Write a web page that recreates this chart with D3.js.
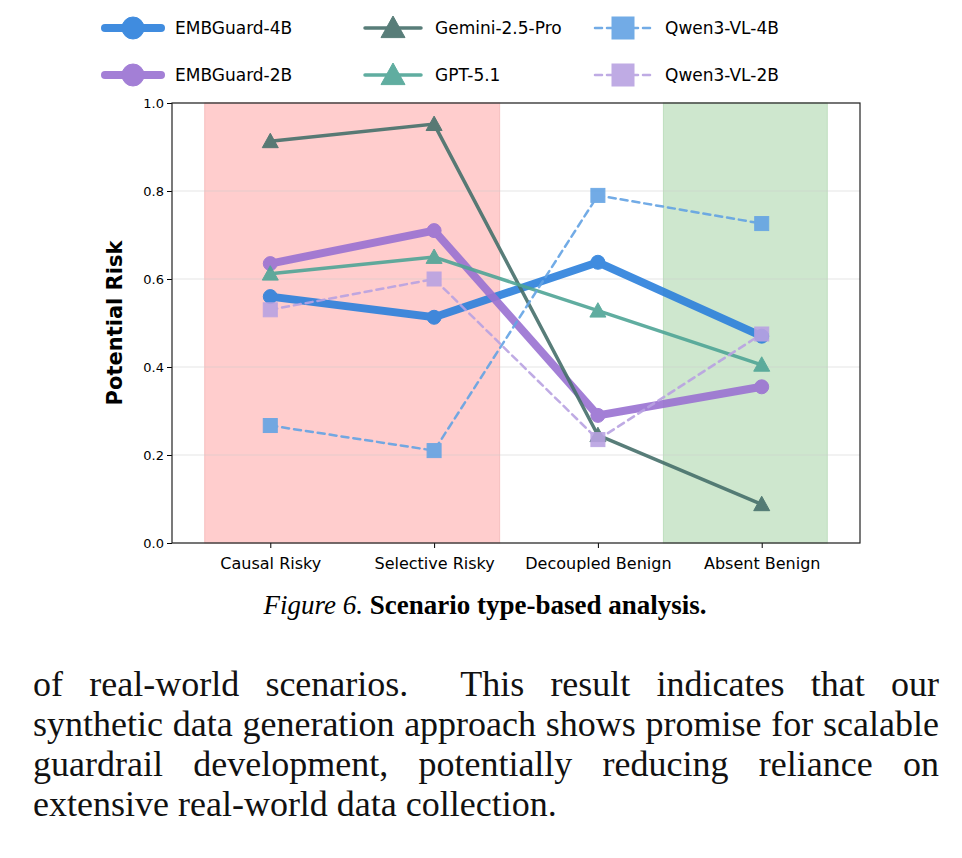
<!DOCTYPE html>
<html><head><meta charset="utf-8">
<script src="https://cdn.jsdelivr.net/npm/d3@7"></script>
<style>
body{margin:0;background:#fff;}
.body-text{position:absolute;left:33px;top:664px;width:906px;font-family:"Liberation Serif",serif;font-size:36px;line-height:40px;text-align:justify;color:#111;}
</style></head><body>
<svg id="chart" width="962" height="650"></svg>
<div class="body-text">of real-world scenarios.&nbsp; This result indicates that our synthetic data generation approach shows promise for scalable guardrail development, potentially reducing reliance on extensive real-world data collection.</div>
<script>
var categories = ["Causal Risky", "Selective Risky", "Decoupled Benign", "Absent Benign"];
var yTicks = [0.0, 0.2, 0.4, 0.6, 0.8, 1.0];
var embguard4b = [0.56, 0.513, 0.638, 0.47];
var embguard2b = [0.635, 0.71, 0.29, 0.355];
var gemini = [0.913, 0.952, 0.245, 0.088];
var gpt51 = [0.612, 0.65, 0.528, 0.405];
var qwen4b = [0.267, 0.21, 0.79, 0.726];
var qwen2b = [0.53, 0.6, 0.235, 0.475];

var series = [
	{name: "EMBGuard-4B", values: embguard4b, color: "#2c80dc", width: 8, dash: null, marker: "circle", r: 7},
	{name: "EMBGuard-2B", values: embguard2b, color: "#9a72d2", width: 8, dash: null, marker: "circle", r: 7},
	{name: "Gemini-2.5-Pro", values: gemini, color: "#46706b", width: 3.5, dash: null, marker: "triangle", r: 8},
	{name: "GPT-5.1", values: gpt51, color: "#4fa596", width: 3.5, dash: null, marker: "triangle", r: 8},
	{name: "Qwen3-VL-4B", values: qwen4b, color: "#63a3e4", width: 2.5, dash: "7,5", marker: "square", r: 7},
	{name: "Qwen3-VL-2B", values: qwen2b, color: "#b9a2e2", width: 2.5, dash: "7,5", marker: "square", r: 7}
];

var svg = d3.select("#chart");
var plotLeft = 172, plotRight = 860, plotTop = 103, plotBottom = 543;
var x = d3.scaleLinear().domain([-0.6, 3.6]).range([plotLeft, plotRight]);
var y = d3.scaleLinear().domain([0, 1]).range([plotBottom, plotTop]);

// shaded scenario bands
svg.append("rect").attr("x", x(-0.4)).attr("y", plotTop).attr("width", x(1.4) - x(-0.4)).attr("height", plotBottom - plotTop)
	.style("fill", "#ff9c9c").style("opacity", 0.5).style("stroke", "#f08080");
svg.append("rect").attr("x", x(2.4)).attr("y", plotTop).attr("width", x(3.4) - x(2.4)).attr("height", plotBottom - plotTop)
	.style("fill", "#9fd09f").style("opacity", 0.5).style("stroke", "#80c080");

// grid
yTicks.forEach(function(t) {
	svg.append("line").attr("x1", plotLeft).attr("x2", plotRight).attr("y1", y(t)).attr("y2", y(t))
		.style("stroke", "#ccc").style("stroke-opacity", 0.5);
});

svg.append("g").attr("transform", "translate(" + plotLeft + ",0)")
	.call(d3.axisLeft(y).tickValues(yTicks).tickFormat(d3.format(".1f")).tickSize(5))
	.call(function(g) { g.select(".domain").remove(); g.selectAll("text").style("font-family", "DejaVu Sans").style("font-size", "13px"); });
svg.append("g").attr("transform", "translate(0," + plotBottom + ")")
	.call(d3.axisBottom(x).tickValues([0, 1, 2, 3]).tickFormat(function(d) { return categories[d]; }).tickSize(5))
	.call(function(g) { g.select(".domain").remove(); g.selectAll("text").style("font-family", "DejaVu Sans").style("font-size", "16px").attr("dy", "1.1em"); });

svg.append("rect").attr("x", plotLeft).attr("y", plotTop).attr("width", plotRight - plotLeft).attr("height", plotBottom - plotTop)
	.style("fill", "none").style("stroke", "#222").style("stroke-width", 1.2);

svg.append("text").attr("transform", "translate(122," + ((plotTop + plotBottom) / 2) + ") rotate(-90)")
	.attr("text-anchor", "middle").style("font-family", "DejaVu Sans").style("font-weight", "bold").style("font-size", "21px")
	.text("Potential Risk");

function drawMarker(g, s, cx, cy) {
	var m;
	if (s.marker == "circle") {
		m = g.append("circle").attr("cx", cx).attr("cy", cy).attr("r", s.r);
	} else if (s.marker == "triangle") {
		var r = s.r;
		m = g.append("path").attr("d", "M" + cx + "," + (cy - r) + " L" + (cx + r) + "," + (cy + r * 0.8) + " L" + (cx - r) + "," + (cy + r * 0.8) + " Z");
	} else {
		m = g.append("rect").attr("x", cx - s.r).attr("y", cy - s.r).attr("width", 2 * s.r).attr("height", 2 * s.r);
	}
	m.style("fill", s.color).style("stroke", s.color).style("stroke-width", 1);
}

var line = d3.line().x(function(d, i) { return x(i); }).y(function(d) { return y(d); });
series.forEach(function(s) {
	var g = svg.append("g").style("opacity", 0.9);
	g.append("path").attr("d", line(s.values)).style("fill", "none").style("stroke", s.color)
		.style("stroke-width", s.width).style("stroke-dasharray", s.dash).style("stroke-linecap", "round");
	s.values.forEach(function(v, i) { drawMarker(g, s, x(i), y(v)); });
});

// legend: column-major, 2 rows x 3 cols
var legendCols = [105, 365, 595];
var legendRows = [28, 75];
series.forEach(function(s, i) {
	var lx = legendCols[Math.floor(i / 2)], ly = legendRows[i % 2];
	var g = svg.append("g").style("opacity", 0.9);
	g.append("line").attr("x1", lx).attr("x2", lx + 56).attr("y1", ly).attr("y2", ly)
		.style("stroke", s.color).style("stroke-width", s.width).style("stroke-dasharray", s.dash).style("stroke-linecap", "round");
	drawMarker(g, {marker: s.marker, r: s.r + 4, color: s.color}, lx + 28, ly);
	svg.append("text").attr("x", lx + 70).attr("y", ly + 6).style("font-family", "DejaVu Sans").style("font-size", "17px").text(s.name);
});

var cap = svg.append("text").attr("x", 485).attr("y", 614).attr("text-anchor", "middle")
	.style("font-family", "Liberation Serif").style("font-size", "27px");
cap.append("tspan").style("font-style", "italic").text("Figure 6. ");
cap.append("tspan").style("font-weight", "bold").text("Scenario type-based analysis.");
</script></body></html>
